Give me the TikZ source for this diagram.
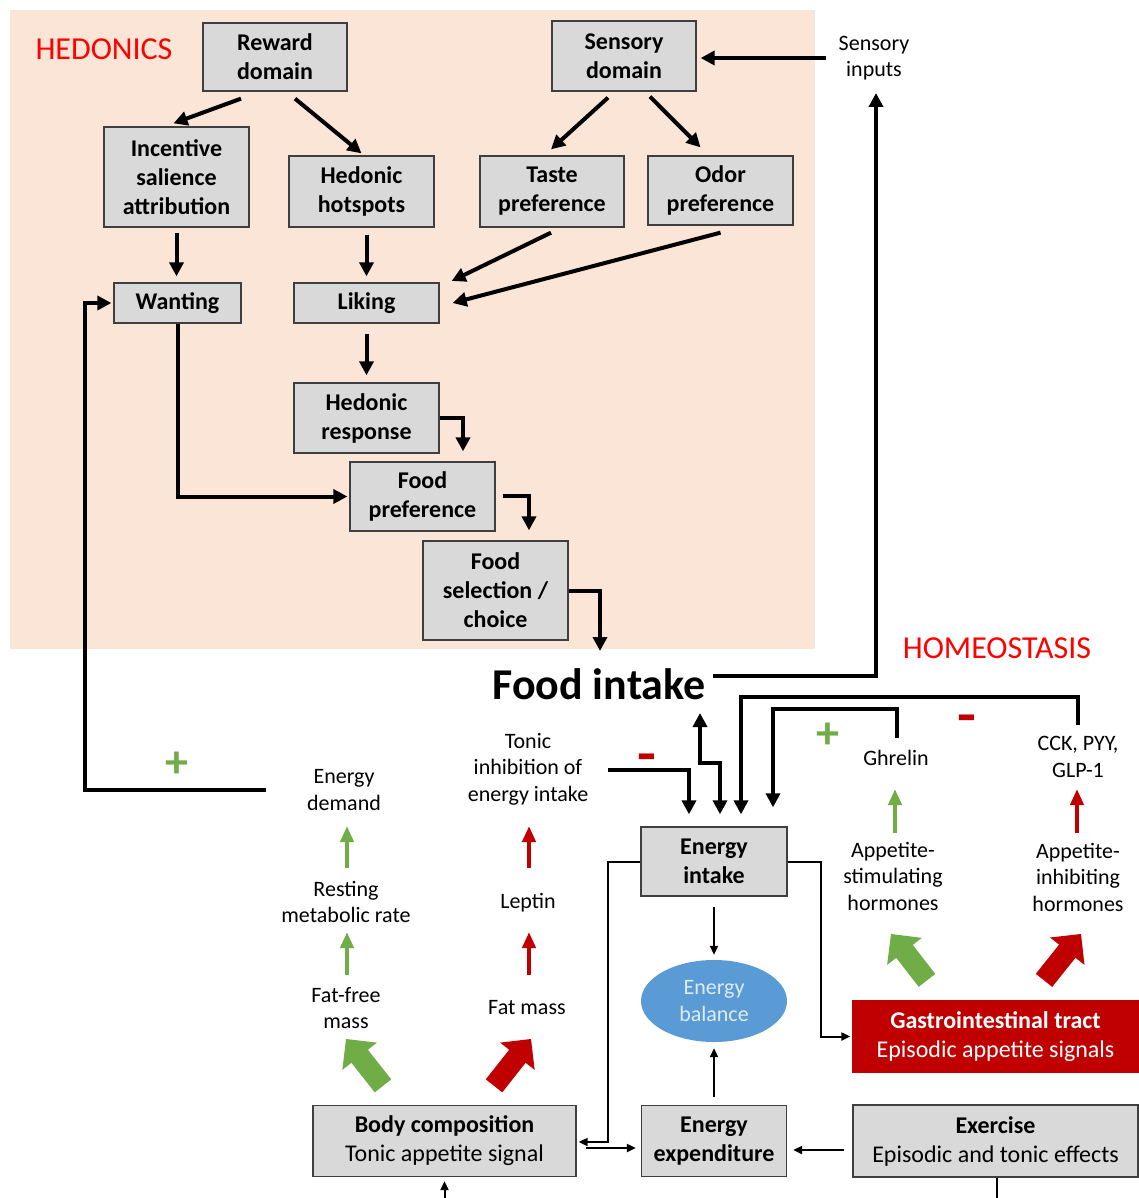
\documentclass[tikz,border=0pt]{standalone}
\usepackage{fontspec}
\setmainfont{Carlito}
\usetikzlibrary{arrows.meta,calc,shapes.geometric}
\definecolor{peach}{HTML}{FBE5D6}
\definecolor{boxgray}{HTML}{D9D9D9}
\definecolor{boxline}{HTML}{3F3F3F}
\definecolor{ggreen}{HTML}{70AD47}
\definecolor{rred}{HTML}{C00000}
\definecolor{ebal}{HTML}{5B9BD5}
\definecolor{ebaltext}{HTML}{DEEBF7}
\definecolor{titlered}{HTML}{FF0000}
\newcommand{\bigarrow}[3]{%
  \coordinate (ba-h) at ($(#3)!22pt!(#2)$);
  \fill[#1] ($(#2)!10.5pt!90:(#3)$) -- ($(ba-h)!10.5pt!90:(#3)$) -- ($(ba-h)!22pt!90:(#3)$) -- (#3)
    -- ($(ba-h)!22pt!-90:(#3)$) -- ($(ba-h)!10.5pt!-90:(#3)$) -- ($(#2)!10.5pt!-90:(#3)$) -- cycle;}
\begin{document}
\begin{tikzpicture}[x=1pt,y=-1pt,
  box/.style={draw=boxline, line width=1.3pt, fill=boxgray, align=center,
    font=\fontsize{24}{29}\selectfont\bfseries, inner sep=0pt},
  lbl/.style={align=center, font=\fontsize{22}{26.5}\selectfont, inner sep=1pt},
  thk/.style={line width=4pt, -{Triangle[length=14pt,width=14pt]}},
  thn/.style={line width=2pt, -{Triangle[length=9pt,width=8pt]}},
  garr/.style={draw=ggreen, line width=4.5pt, -{Triangle[length=16pt,width=13pt]}},
  rarr/.style={draw=rred, line width=4.5pt, -{Triangle[length=16pt,width=13pt]}},
  title/.style={text=titlered, font=\fontsize{32}{38}\selectfont, inner sep=0pt},
  plus/.style={text=ggreen, font=\fontsize{46}{46}\selectfont\bfseries, inner sep=0pt},
  minus/.style={text=rred, font=\fontsize{44}{44}\selectfont\bfseries, inner sep=0pt},
]
\useasboundingbox (0,0) rectangle (1139,1198);
\fill[peach] (10,10) rectangle (815,649);

% ---------- hedonics nodes
\node[title] (hedonics) at (104,49) {HEDONICS};
\node[box, minimum width=144pt, minimum height=68pt] (reward) at (275,57) {Reward\\domain};
\node[box, minimum width=144pt, minimum height=70pt] (sensdom) at (624,56) {Sensory\\domain};
\node[box, minimum width=145pt, minimum height=100pt] (incent) at (176.5,177) {Incentive\\salience\\attribution};
\node[box, minimum width=145pt, minimum height=71pt] (hotspots) at (361.5,191.5) {Hedonic\\hotspots};
\node[box, minimum width=144pt, minimum height=71pt] (taste) at (552,191.5) {Taste\\preference};
\node[box, minimum width=145pt, minimum height=69pt] (odor) at (720.5,190.5) {Odor\\preference};
\node[box, minimum width=127pt, minimum height=40pt] (wanting) at (177.5,303) {Wanting};
\node[box, minimum width=145pt, minimum height=40pt] (liking) at (366.5,303) {Liking};
\node[box, minimum width=145pt, minimum height=70pt] (hedresp) at (366.5,418) {Hedonic\\response};
\node[box, minimum width=145pt, minimum height=69pt] (foodpref) at (422.5,496.5) {Food\\preference};
\node[box, minimum width=145pt, minimum height=99pt] (select) at (495.5,590.5) {Food\\selection /\\choice};
\node[font=\fontsize{44}{50}\selectfont\bfseries, inner sep=0pt] (foodint) at (599,684) {Food intake};
\node[lbl] (sensin) at (874,58) {Sensory\\inputs};

% ---------- homeostasis nodes
\node[title] (homeo) at (997,648) {HOMEOSTASIS};
\node[lbl] (demand) at (344,790) {Energy\\demand};
\node[lbl] (rmr) at (346,902) {Resting\\metabolic rate};
\node[lbl] (ffm) at (346,1008) {Fat-free\\mass};
\node[lbl] (tonic) at (528,769) {Tonic\\inhibition of\\energy intake};
\node[lbl] (leptin) at (528,903) {Leptin};
\node[lbl] (fatmass) at (527,1008) {Fat mass};
\node[lbl] (ghrelin) at (896,758) {Ghrelin};
\node[lbl] (cck) at (1078,757) {CCK, PYY,\\GLP-1};
\node[lbl] (appstim) at (893,876) {Appetite-\\stimulating\\hormones};
\node[lbl] (appinh) at (1078,877) {Appetite-\\inhibiting\\hormones};
\node[plus] (plus1) at (177,765) {+};
\node[plus] (plus2) at (828,736) {+};
\node[minus] (minus1) at (647,763) {\scalebox{1.4}[1.25]{-}};
\node[minus] (minus2) at (967,724) {\scalebox{1.4}[1.25]{-}};

\node[box, minimum width=146pt, minimum height=69pt] (intake) at (714,861.5) {Energy\\intake};
\node[ellipse, fill=ebal, minimum width=146pt, minimum height=82pt, inner sep=0pt, text=ebaltext,
  align=center, font=\fontsize{22}{26.5}\selectfont] (balance) at (714,1001) {Energy\\balance};
\node[box, minimum width=145pt, minimum height=71pt] (expend) at (714,1141) {Energy\\expenditure};
\node[box, minimum width=263pt, minimum height=71pt] (body) at (444.5,1141) {Body composition\\{\mdseries Tonic appetite signal}};
\node[box, minimum width=285pt, minimum height=72pt] (exercise) at (995.5,1141) {Exercise\\{\mdseries Episodic and tonic effects}};
\node[box, draw=rred, fill=rred, text=white, minimum width=285pt, minimum height=71pt] (gi) at (995.5,1036.5) {Gastrointestinal tract\\{\mdseries Episodic appetite signals}};

% ---------- hedonics connectors
\draw[thk] ($(reward.south)+(-34,7)$) -- ($(incent.north)+(-3,-3)$);
\draw[thk] ($(reward.south)+(20,7)$) -- ($(hotspots.north)+(0,-2)$);
\draw[thk] ($(sensdom.south)+(-16,6)$) -- ($(taste.north)+(-1,-6)$);
\draw[thk] ($(sensdom.south)+(26,5)$) -- ($(odor.north)+(-20,-8)$);
\draw[thk] ($(incent.south)+(0,5)$) -- ($(wanting.north)+(-1,-6)$);
\draw[thk] ($(hotspots.south)+(5,7)$) -- ($(liking.north)+(0,-6)$);
\draw[thk] ($(taste.south)+(-1,5)$) -- ($(liking.east)+(12,-22)$);
\draw[thk] ($(odor.south)+(0,7)$) -- ($(liking.east)+(13,0)$);
\draw[thk] ($(liking.south)+(0,10)$) -- ($(hedresp.north)+(0,-7)$);
\draw[thk] (hedresp.east) -| ($(foodpref.north)+(40.5,-10)$);
\draw[thk] (wanting.south) |- ($(foodpref.west)+(-2,0)$);
\draw[thk] ($(foodpref.east)+(7,-1)$) -| ($(select.north)+(33.5,-10)$);
\draw[thk] (select.east) -| ($(foodint.center)+(1,-33)$);
\draw[thk] ($(demand.west)+(-40,0)$) -- ++(-181,0) |- ($(wanting.west)+(-2,0)$);
\draw[thk] ($(foodint.center)+(114,-8)$) -| ($(sensin.center)+(2,35)$);
\draw[thk] ($(sensin.west)+(-12,0)$) -- ($(sensdom.east)+(4,2)$);

% ---------- homeostasis connectors
\draw[thk] ($(tonic.center)+(80,1)$) -| ($(intake.north)+(-25,-12)$);
\draw[thk, {Triangle[length=14pt,width=14pt]}-{Triangle[length=14pt,width=14pt]}]
  ($(foodint.center)+(101,29)$) -- ++(0,50) -| ($(intake.north)+(6,-12)$);
\draw[thk] ($(cck.center)+(0,-32)$) -- ++(0,-28) -| ($(intake.north)+(27,-12)$);
\draw[thk] ($(ghrelin.center)+(1,-20)$) -- ++(0,-29) -| ($(intake.north)+(59,-19)$);

\draw[garr] ($(ffm.center)+(1,-33)$) -- ($(rmr.center)+(1,30)$);
\draw[garr] ($(rmr.center)+(1,-34)$) -- ($(demand.center)+(3,36)$);
\draw[rarr] ($(fatmass.center)+(2,-33)$) -- ($(leptin.center)+(1,29)$);
\draw[rarr] ($(leptin.center)+(1,-35)$) -- ($(tonic.center)+(1,57)$);
\draw[garr] ($(appstim.center)+(2,-43)$) -- ($(ghrelin.center)+(-1,31)$);
\draw[rarr] ($(appinh.center)+(-1,-44)$) -- ($(cck.center)+(-1,32)$);

\coordinate (g1tail) at ($(body.north)+(-61.5,-19)$);
\coordinate (g1tip) at ($(ffm.center)+(0,31)$);
\coordinate (r1tail) at ($(body.north)+(49.5,-19)$);
\coordinate (r1tip) at ($(fatmass.center)+(4,31)$);
\coordinate (g2tail) at ($(gi.north)+(-68.5,-20)$);
\coordinate (g2tip) at ($(appstim.center)+(-2,58)$);
\coordinate (r2tail) at ($(gi.north)+(48.5,-20)$);
\coordinate (r2tip) at ($(appinh.center)+(3,57)$);
\bigarrow{ggreen}{g1tail}{g1tip}
\bigarrow{rred}{r1tail}{r1tip}
\bigarrow{ggreen}{g2tail}{g2tip}
\bigarrow{rred}{r2tail}{r2tip}

\draw[thn] (intake.west) -- ++(-32,0) |- ($(body.east)+(2,1)$);
\draw[thn] (intake.east) -- ++(33,0) |- ($(gi.west)+(-2,0)$);
\draw[thn] ($(intake.south)+(0,10)$) -- ($(balance.north)+(0,-5)$);
\draw[thn] ($(expend.north)+(0,-8)$) -- ($(balance.south)+(0,6)$);
\draw[thn] ($(body.east)+(9,7)$) -- ($(expend.west)+(-5,7)$);
\draw[thn] ($(exercise.west)+(-8,9)$) -- ($(expend.east)+(6,9)$);
\coordinate (bodyin) at (444.5,1198);
\draw[thn] (bodyin) -- ($(body.south)+(0,4)$);
\coordinate (exout) at (997,1198);
\draw[line width=2pt] (exercise.south -| exout) -- (exout);
\end{tikzpicture}
\end{document}
